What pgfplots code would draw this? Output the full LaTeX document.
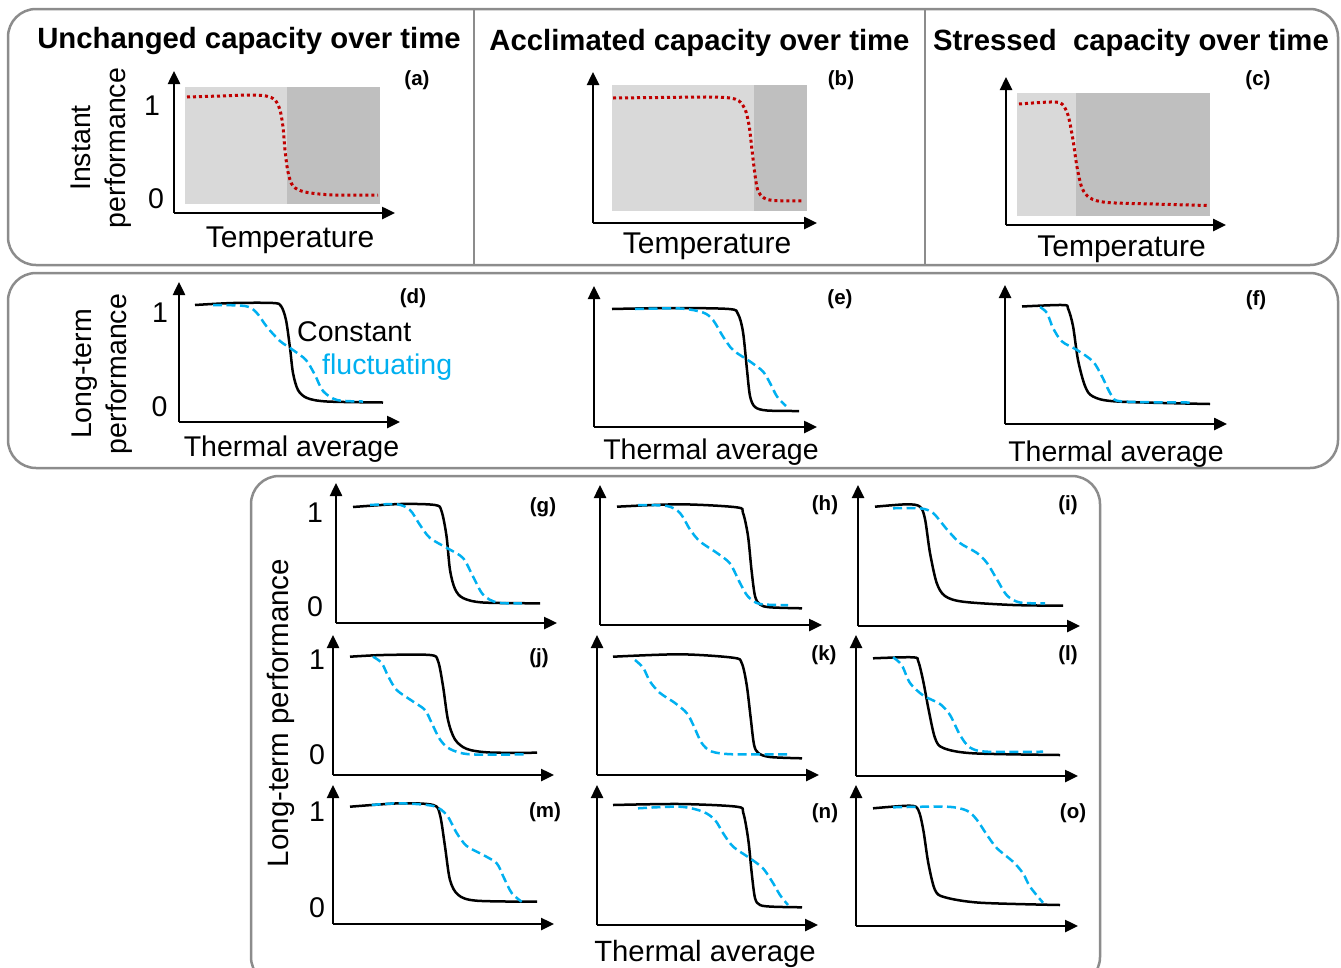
\documentclass[border=0pt]{standalone}
\usepackage{fontspec}
\setmainfont{Liberation Sans}
\usepackage{pgfplots}
\pgfplotsset{compat=1.18}
\usetikzlibrary{arrows.meta}

\definecolor{fluc}{HTML}{00B0F0}
\definecolor{dred}{HTML}{C00000}
\definecolor{lightg}{HTML}{D9D9D9}
\definecolor{darkg}{HTML}{BFBFBF}
\definecolor{boxg}{HTML}{8C8C8C}

\newcommand\fs{\fontsize{28.5}{35}\selectfont}
\newcommand\tfs{\fontsize{30}{35}\selectfont}
\newcommand\ts{\fontsize{29.3}{35}\selectfont\bfseries}
\newcommand\ls{\fontsize{20.5}{24}\selectfont\bfseries}

% one panel = one axis, data in pixel units of the reference (y negated)
\pgfplotsset{
  panel/.style={scale only axis, anchor=south west, axis lines=left,
    axis line style={line width=2.5pt, -{Triangle[length=13pt,width=12pt]}},
    xtick=\empty, ytick=\empty, clip=false, enlargelimits=false},
  const/.style={black, line width=2.5pt, smooth, tension=0.5, no marks},
  fluct/.style={fluc, line width=2.5pt, dash pattern=on 9pt off 4.5pt, smooth, tension=0.5, no marks},
  inst/.style={dred, line width=3pt, dash pattern=on 3pt off 3pt, smooth, tension=0.5, no marks},
}

\begin{document}
\begin{tikzpicture}
\useasboundingbox (0pt,0pt) rectangle (1341pt,-967pt);

% frames
\draw[boxg, line width=2.5pt, rounded corners=28pt] (8pt,-9pt) rectangle (1338pt,-265pt);
\draw[boxg, line width=2.5pt] (474pt,-9pt) -- (474pt,-265pt);
\draw[boxg, line width=2.5pt] (925pt,-9pt) -- (925pt,-265pt);
\draw[boxg, line width=2.5pt, rounded corners=28pt] (8pt,-273pt) rectangle (1338pt,-468pt);
\draw[boxg, line width=2.5pt, rounded corners=28pt] (251pt,-476pt) rectangle (1100pt,-985pt);

% (a)
\begin{axis}[panel, at={(174pt,-213pt)}, width=221pt, height=142pt, xmin=174, xmax=395, ymin=-213, ymax=-71]
\addplot[fill=lightg, draw=none] coordinates {(185,-87) (287,-87) (287,-204) (185,-204)} --cycle;
\addplot[fill=darkg, draw=none] coordinates {(287,-87) (380,-87) (380,-204) (287,-204)} --cycle;
\addplot[inst] coordinates {(187,-97) (220,-96) (250,-95) (266,-96) (275,-100) (280,-110) (283,-127) (285,-150) (288,-172) (293,-186) (305,-192) (333,-195) (378,-195)};
\end{axis}

% (b)
\begin{axis}[panel, at={(593pt,-223pt)}, width=224pt, height=151pt, xmin=593, xmax=817, ymin=-223, ymax=-72]
\addplot[fill=lightg, draw=none] coordinates {(612,-85) (754,-85) (754,-211) (612,-211)} --cycle;
\addplot[fill=darkg, draw=none] coordinates {(754,-85) (807,-85) (807,-211) (754,-211)} --cycle;
\addplot[inst] coordinates {(613,-98) (660,-97.5) (710,-97) (730,-98) (739,-101) (745,-109) (749,-125) (752,-150) (755,-175) (758,-191) (764,-198) (774,-200.5) (803,-201)};
\end{axis}

% (c)
\begin{axis}[panel, at={(1006pt,-225pt)}, width=220pt, height=148pt, xmin=1006, xmax=1226, ymin=-225, ymax=-77]
\addplot[fill=lightg, draw=none] coordinates {(1017,-93) (1076,-93) (1076,-216) (1017,-216)} --cycle;
\addplot[fill=darkg, draw=none] coordinates {(1076,-93) (1210,-93) (1210,-216) (1076,-216)} --cycle;
\addplot[inst] coordinates {(1019,-104) (1040,-102.5) (1055,-102) (1062,-104) (1068,-115) (1073,-140) (1077,-167) (1082,-188) (1090,-198) (1107,-202.5) (1153,-204) (1208,-205.5)};
\end{axis}

% (d)
\begin{axis}[panel, at={(179pt,-422pt)}, width=221pt, height=140pt, xmin=179, xmax=400, ymin=-422, ymax=-282]
\addplot[const] coordinates {(195,-305) (233,-303) (273,-303) (281,-306) (286,-320) (290,-348) (293,-373) (298,-390) (307,-398) (327,-401.5) (383,-402.5)};
\addplot[fluct] coordinates {(213,-305) (245,-306) (256,-312) (267,-327) (280,-341) (293,-350) (306,-360) (315,-375) (323,-391) (337,-400) (363,-401.5)};
\end{axis}

% (e)
\begin{axis}[panel, at={(594pt,-427pt)}, width=223pt, height=141pt, xmin=594, xmax=817, ymin=-427, ymax=-286]
\addplot[const] coordinates {(612,-309) (670,-308) (729,-309) (738,-314) (743,-332) (747,-370) (750,-396) (755,-407) (767,-410.5) (799,-411)};
\addplot[fluct] coordinates {(635,-309) (680,-308.5) (703,-312.5) (713,-320) (723,-336.5) (733,-350) (750,-361.5) (763,-371.5) (770,-383) (777,-396.5) (786,-406)};
\end{axis}

% (f)
\begin{axis}[panel, at={(1005pt,-424pt)}, width=222pt, height=139pt, xmin=1005, xmax=1227, ymin=-424, ymax=-285]
\addplot[const] coordinates {(1022,-306.5) (1063,-305) (1068,-308.5) (1073,-326) (1078,-360) (1085,-386) (1093,-396.5) (1117,-401.5) (1210,-404)};
\addplot[fluct] coordinates {(1040,-307) (1047,-313) (1053,-328) (1062,-341.5) (1077,-350) (1093,-361.5) (1102,-376.5) (1112,-396) (1123,-401.5) (1190,-402.5)};
\end{axis}

% (g)
\begin{axis}[panel, at={(336pt,-623pt)}, width=221pt, height=140pt, xmin=336, xmax=557, ymin=-623, ymax=-483]
\addplot[const] coordinates {(353,-507) (400,-504) (435,-505) (441.5,-511) (446.5,-536) (450,-570) (455,-589) (463,-598) (483,-602.5) (540,-603.3)};
\addplot[fluct] coordinates {(370,-505) (397,-504.3) (410,-510) (420,-525) (430,-538) (447,-548) (463,-558) (473,-576.5) (483,-594.5) (497,-602.5) (522,-603.3)};
\end{axis}

% (h)
\begin{axis}[panel, at={(600pt,-625pt)}, width=222pt, height=140pt, xmin=600, xmax=822, ymin=-625, ymax=-485]
\addplot[const] coordinates {(617,-506.7) (680,-504.3) (736.5,-507.3) (743,-513) (748,-536) (751.5,-570) (755,-596) (760,-604.5) (770,-607.3) (802,-608.3)};
\addplot[fluct] coordinates {(638,-505) (667,-506) (680,-513) (690,-529.5) (700,-541.5) (717,-553) (730,-563.5) (740,-583) (748,-596.5) (760,-604) (788,-605)};
\end{axis}

% (i)
\begin{axis}[panel, at={(858pt,-626pt)}, width=222pt, height=141pt, xmin=858, xmax=1080, ymin=-626, ymax=-485]
\addplot[const] coordinates {(875,-506.7) (907,-504.3) (920,-506.7) (925,-519) (930,-553) (936.7,-583) (945,-596) (963,-601.7) (1013,-605) (1063,-605.7)};
\addplot[fluct] coordinates {(893,-508.3) (920,-508.3) (933,-513) (947,-529.5) (960,-543) (977,-553) (987,-563) (997,-579.5) (1007,-595.5) (1020,-602.5) (1045,-603.3)};
\end{axis}

% (j)
\begin{axis}[panel, at={(333pt,-775pt)}, width=221pt, height=140pt, xmin=333, xmax=554, ymin=-775, ymax=-635]
\addplot[const] coordinates {(350,-656.7) (383,-655) (430,-655) (438,-661) (443,-686) (448,-720) (455,-739.5) (467,-749) (490,-752.5) (537,-752.7)};
\addplot[fluct] coordinates {(373,-656.7) (381.7,-663) (388.3,-676.5) (396.7,-690) (413,-701.5) (425,-710) (431.7,-723) (440,-739.5) (450,-749) (470,-754.3) (525,-754.3)};
\end{axis}

% (k)
\begin{axis}[panel, at={(597pt,-775pt)}, width=222pt, height=140pt, xmin=597, xmax=819, ymin=-775, ymax=-635]
\addplot[const] coordinates {(613,-656.7) (680,-654.3) (733,-657.7) (741.7,-663) (746.7,-685) (750.7,-718) (754,-744.5) (758.3,-753) (770,-757) (802,-758.3)};
\addplot[fluct] coordinates {(635,-660) (643.3,-668) (650,-681.5) (660,-693) (675,-703) (686.7,-713) (693.3,-725) (701.7,-743) (711.7,-751.5) (733,-754.3) (787,-754.3)};
\end{axis}

% (l)
\begin{axis}[panel, at={(856pt,-776pt)}, width=222pt, height=141pt, xmin=856, xmax=1078, ymin=-776, ymax=-635]
\addplot[const] coordinates {(873,-658.3) (913,-657.3) (918.3,-661.5) (923.3,-681.5) (928.3,-708) (935,-738) (943.3,-748) (973,-753.3) (1060,-755)};
\addplot[fluct] coordinates {(893,-657.3) (901.7,-665) (910,-683) (923.3,-695.5) (940,-704) (950,-715) (960,-735) (970,-747.5) (987,-751.7) (1043,-751.7)};
\end{axis}

% (m)
\begin{axis}[panel, at={(333pt,-924pt)}, width=221pt, height=139pt, xmin=333, xmax=554, ymin=-924, ymax=-785]
\addplot[const] coordinates {(350,-806.7) (400,-803.3) (433.3,-805) (440,-815) (445,-846.5) (450,-880) (458.3,-895) (476.7,-900.7) (537,-901.7)};
\addplot[fluct] coordinates {(371.7,-805) (400,-803.3) (433.3,-806) (446.7,-815) (456.7,-833) (466.7,-846) (483.3,-855) (496.7,-863.3) (503.3,-876.5) (511.7,-893) (521.7,-901.7)};
\end{axis}

% (n)
\begin{axis}[panel, at={(597pt,-925pt)}, width=221pt, height=140pt, xmin=597, xmax=818, ymin=-925, ymax=-785]
\addplot[const] coordinates {(613,-805) (680,-804) (736.7,-806.7) (743.3,-813) (748.3,-840) (751.7,-873) (755,-898) (760,-905) (773,-906.7) (802,-907.3)};
\addplot[fluct] coordinates {(638,-808.3) (680,-806.7) (703,-811.7) (715,-820) (723,-833) (733,-846.5) (750,-858.3) (763,-868.3) (773,-883) (780,-895) (788,-905)};
\end{axis}

% (o)
\begin{axis}[panel, at={(856pt,-926pt)}, width=222pt, height=141pt, xmin=856, xmax=1078, ymin=-926, ymax=-785]
\addplot[const] coordinates {(873,-808.3) (910,-805.7) (918.3,-810) (923.3,-830) (928.3,-863) (935,-890) (945,-897.3) (980,-902.7) (1060,-905)};
\addplot[fluct] coordinates {(893,-807.3) (947,-806.7) (967,-810.7) (977,-820) (987,-835) (997,-848.3) (1013,-861.7) (1023,-873.3) (1030,-886.7) (1043,-902.7)};
\end{axis}

% titles
\begin{scope}[every node/.style={inner sep=0pt}]
\node[font=\ts] at (249pt,-41pt) {Unchanged capacity over time};
\node[font=\ts] at (699.5pt,-42.5pt) {Acclimated capacity over time};
\node[font=\ts] at (1131pt,-42.5pt) {Stressed\ \ capacity over time};

% axis titles
\node[font=\tfs] at (290pt,-240pt) {Temperature};
\node[font=\tfs] at (707pt,-246pt) {Temperature};
\node[font=\tfs] at (1121.5pt,-249.5pt) {Temperature};
\node[font=\fs] at (291.5pt,-449pt) {Thermal average};
\node[font=\fs] at (711pt,-452pt) {Thermal average};
\node[font=\fs] at (1116pt,-454pt) {Thermal average};
\node[font=\fontsize{29.3}{35}\selectfont] at (705pt,-954pt) {Thermal average};

\node[font=\fs, rotate=90, align=center] at (101pt,-148pt) {Instant\\performance};
\node[font=\fs, rotate=90, align=center] at (102pt,-374pt) {Long-term\\performance};
\node[font=\fontsize{29.5}{35}\selectfont, rotate=90] at (281pt,-713pt) {Long-term performance};

% 0 / 1 marks on the y axes
\node[font=\fs] at (152pt,-106pt) {1};
\node[font=\fs] at (156pt,-198.5pt) {0};
\node[font=\fs] at (160pt,-313pt) {1};
\node[font=\fs] at (159.5pt,-406.5pt) {0};
\node[font=\fs] at (315pt,-513pt) {1};
\node[font=\fs] at (315pt,-607pt) {0};
\node[font=\fs] at (317pt,-660pt) {1};
\node[font=\fs] at (317pt,-755pt) {0};
\node[font=\fs] at (317pt,-812pt) {1};
\node[font=\fs] at (317pt,-908pt) {0};

% legend words in (d)
\node[font=\fs, anchor=west] at (297pt,-332pt) {Constant};
\node[font=\fs, anchor=west, text=fluc] at (322pt,-367pt) {fluctuating};

% panel letters
\node[font=\ls] at (417pt,-80pt) {(a)};
\node[font=\ls] at (841pt,-80pt) {(b)};
\node[font=\ls] at (1258pt,-80pt) {(c)};
\node[font=\ls] at (413pt,-298pt) {(d)};
\node[font=\ls] at (840pt,-299pt) {(e)};
\node[font=\ls] at (1256pt,-300pt) {(f)};
\node[font=\ls] at (543pt,-507pt) {(g)};
\node[font=\ls] at (825pt,-505pt) {(h)};
\node[font=\ls] at (1068pt,-505pt) {(i)};
\node[font=\ls] at (539pt,-658pt) {(j)};
\node[font=\ls] at (824pt,-655pt) {(k)};
\node[font=\ls] at (1068pt,-655pt) {(l)};
\node[font=\ls] at (545pt,-812pt) {(m)};
\node[font=\ls] at (825pt,-813pt) {(n)};
\node[font=\ls] at (1073pt,-813pt) {(o)};
\end{scope}
\end{tikzpicture}
\end{document}
